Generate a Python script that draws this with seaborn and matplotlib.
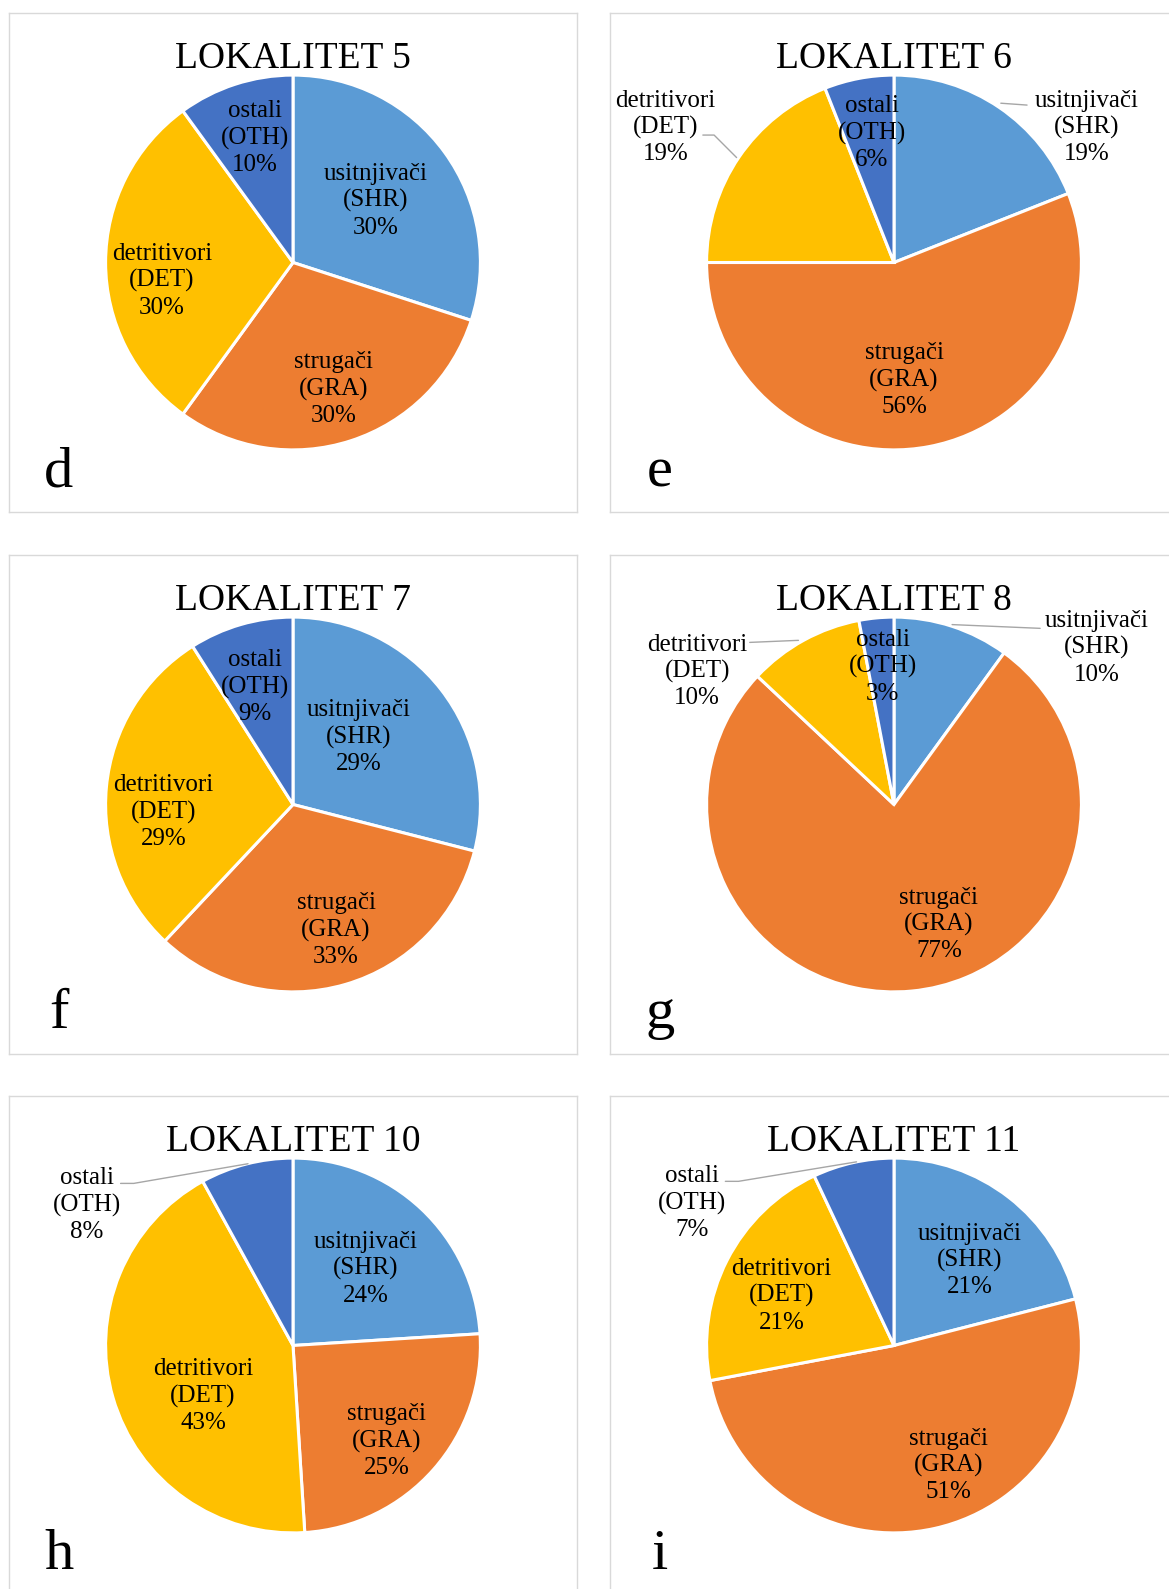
import matplotlib
matplotlib.use("Agg")
import matplotlib.pyplot as plt
import seaborn as sns

# data (percent)
sites = ["LOKALITET 5", "LOKALITET 6", "LOKALITET 7", "LOKALITET 8", "LOKALITET 10", "LOKALITET 11"]
panel_letters = ["d", "e", "f", "g", "h", "i"]
groups = ["usitnjivači", "strugači", "detritivori", "ostali"]
codes = ["SHR", "GRA", "DET", "OTH"]
shr = [30, 19, 29, 10, 24, 21]
gra = [30, 56, 33, 77, 25, 51]
det = [30, 19, 29, 10, 43, 21]
oth = [10, 6, 9, 3, 8, 7]

# label positions (in pie-radius units) for SHR, GRA, DET, OTH
label_xy = [
    [(0.443, 0.33), (0.216, -0.676), (-0.70, -0.097), (-0.205, 0.665)],
    [(1.03, 0.72), (0.054, -0.627), (-1.22, 0.72), (-0.12, 0.69)],
    [(0.35, 0.36), (0.23, -0.67), (-0.69, -0.04), (-0.205, 0.627)],
    [(1.08, 0.836), (0.24, -0.64), (-1.05, 0.71), (-0.06, 0.735)],
    [(0.39, 0.41), (0.50, -0.51), (-0.48, -0.27), (-1.10, 0.75)],
    [(0.405, 0.454), (0.29, -0.64), (-0.60, 0.265), (-1.076, 0.76)],
]
# leader lines for labels placed outside the pie
leaders = {
    1: [[(0.57, 0.85), (0.71, 0.84)],
        [(-1.02, 0.68), (-0.96, 0.68), (-0.84, 0.56)]],
    3: [[(0.31, 0.96), (0.78, 0.94)],
        [(-0.77, 0.865), (-0.51, 0.876)]],
    4: [[(-0.92, 0.865), (-0.85, 0.865), (-0.24, 0.97)]],
    5: [[(-0.90, 0.876), (-0.83, 0.876), (-0.20, 0.98)]],
}

sns.set_theme(style="white")
plt.rcParams["font.family"] = ["Liberation Serif", "DejaVu Serif"]
colors = sns.color_palette(["#5B9BD5", "#ED7D31", "#FFC000", "#4472C4"])

W, H = 1169, 1589
pw, ph = 568, 499
R = 187.4
lefts = [9, 610]
tops = [13, 555, 1096]

fig = plt.figure(figsize=(W / 100, H / 100), dpi=100)

for k in range(6):
    row, col = k // 2, k % 2
    ax = fig.add_axes([lefts[col] / W, (H - tops[row] - ph) / H, pw / W, ph / H])
    vals = [shr[k], gra[k], det[k], oth[k]]
    ax.pie(vals, colors=colors, startangle=90, counterclock=False, radius=1,
           wedgeprops=dict(edgecolor="white", linewidth=2.2))
    ax.set_aspect("auto")
    ax.set_xlim(-pw / 2 / R, pw / 2 / R)
    ax.set_ylim(-ph / 2 / R, ph / 2 / R)
    ax.set_frame_on(True)
    for sp in ax.spines.values():
        sp.set_visible(True)
        sp.set_color("#D9D9D9")
        sp.set_linewidth(1.0)
    ax.set_xticks([])
    ax.set_yticks([])

    for j in range(4):
        x, y = label_xy[k][j]
        ax.text(x, y, f"{groups[j]}\n({codes[j]})\n{vals[j]}%", ha="center", va="center",
                fontsize=18, linespacing=1.25, color="black")
    for pts in leaders.get(k, []):
        ax.plot([p[0] for p in pts], [p[1] for p in pts], color="#A6A6A6", lw=1.0)

    ax.text(0.5, 0.89, sites[k], transform=ax.transAxes, ha="center", va="baseline",
            fontsize=27, color="black")
    ax.text(0.088, 0.052, panel_letters[k], transform=ax.transAxes, ha="center",
            va="baseline", fontsize=42, color="black")

fig.savefig("out.png", dpi=100, facecolor="white")
